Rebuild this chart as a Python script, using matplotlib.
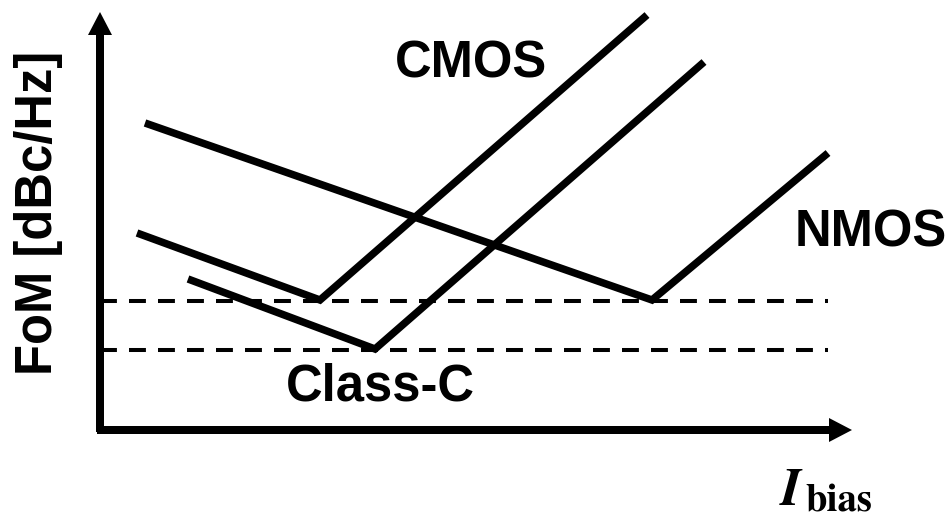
import matplotlib
matplotlib.use("Agg")
import matplotlib.pyplot as plt

plt.rcParams["font.family"] = ["Liberation Sans", "DejaVu Sans"]
plt.rcParams["mathtext.fontset"] = "stix"

# ------------------ DATA ------------------
# bias current (arb.) vs. FoM (arb.), piecewise V-shaped curves
nmos_ibias = [45, 552, 728]
nmos_fom = [307, 130, 277]

cmos_ibias = [37, 220, 547]
cmos_fom = [197, 130, 415]

classc_ibias = [88, 275, 604]
classc_fom = [151, 81, 368]

# best-FoM reference levels
ref_levels = [129, 80]
ref_span = [0, 728]

# ------------------ FIGURE ------------------
fig = plt.figure(figsize=(9.53, 5.21), dpi=100)
ax = fig.add_axes([0, 0, 1, 1])
ax.set_xlim(-100, 853)
ax.set_ylim(-91, 430)
ax.axis("off")

line_kw = dict(color="black", lw=5.4, solid_capstyle="butt", solid_joinstyle="miter")
ax.plot(nmos_ibias, nmos_fom, **line_kw)
ax.plot(cmos_ibias, cmos_fom, **line_kw)
ax.plot(classc_ibias, classc_fom, **line_kw)

for lvl in ref_levels:
    ax.plot(ref_span, [lvl, lvl], color="black", lw=2.9,
            linestyle=(0, (4.2, 3.0)), dash_capstyle="butt")

# axes arrows
ax.arrow(0, -2, 0, 420, width=8, head_width=24, head_length=23,
         length_includes_head=True, color="black", lw=0)
ax.arrow(-3, 0, 755, 0, width=8, head_width=24, head_length=23,
         length_includes_head=True, color="black", lw=0)

# labels
txt_kw = dict(fontsize=36.5, fontweight="bold", ha="center", va="center")
ax.text(371, 366, "CMOS", **txt_kw)
ax.text(771, 197, "NMOS", **txt_kw)
ax.text(280, 43, "Class-C", **txt_kw)
ax.text(-61, 217, "FoM [dBc/Hz]", rotation=90, **txt_kw)

# x-axis label: I with subscript "bias"
ax.text(679, -75, r"$\boldsymbol{I}$", fontsize=38, ha="left", va="baseline")
ax.text(705, -81, "bias", family="STIXGeneral", fontweight="bold",
        fontsize=28, ha="left", va="baseline")

fig.savefig("out.png", dpi=100)
